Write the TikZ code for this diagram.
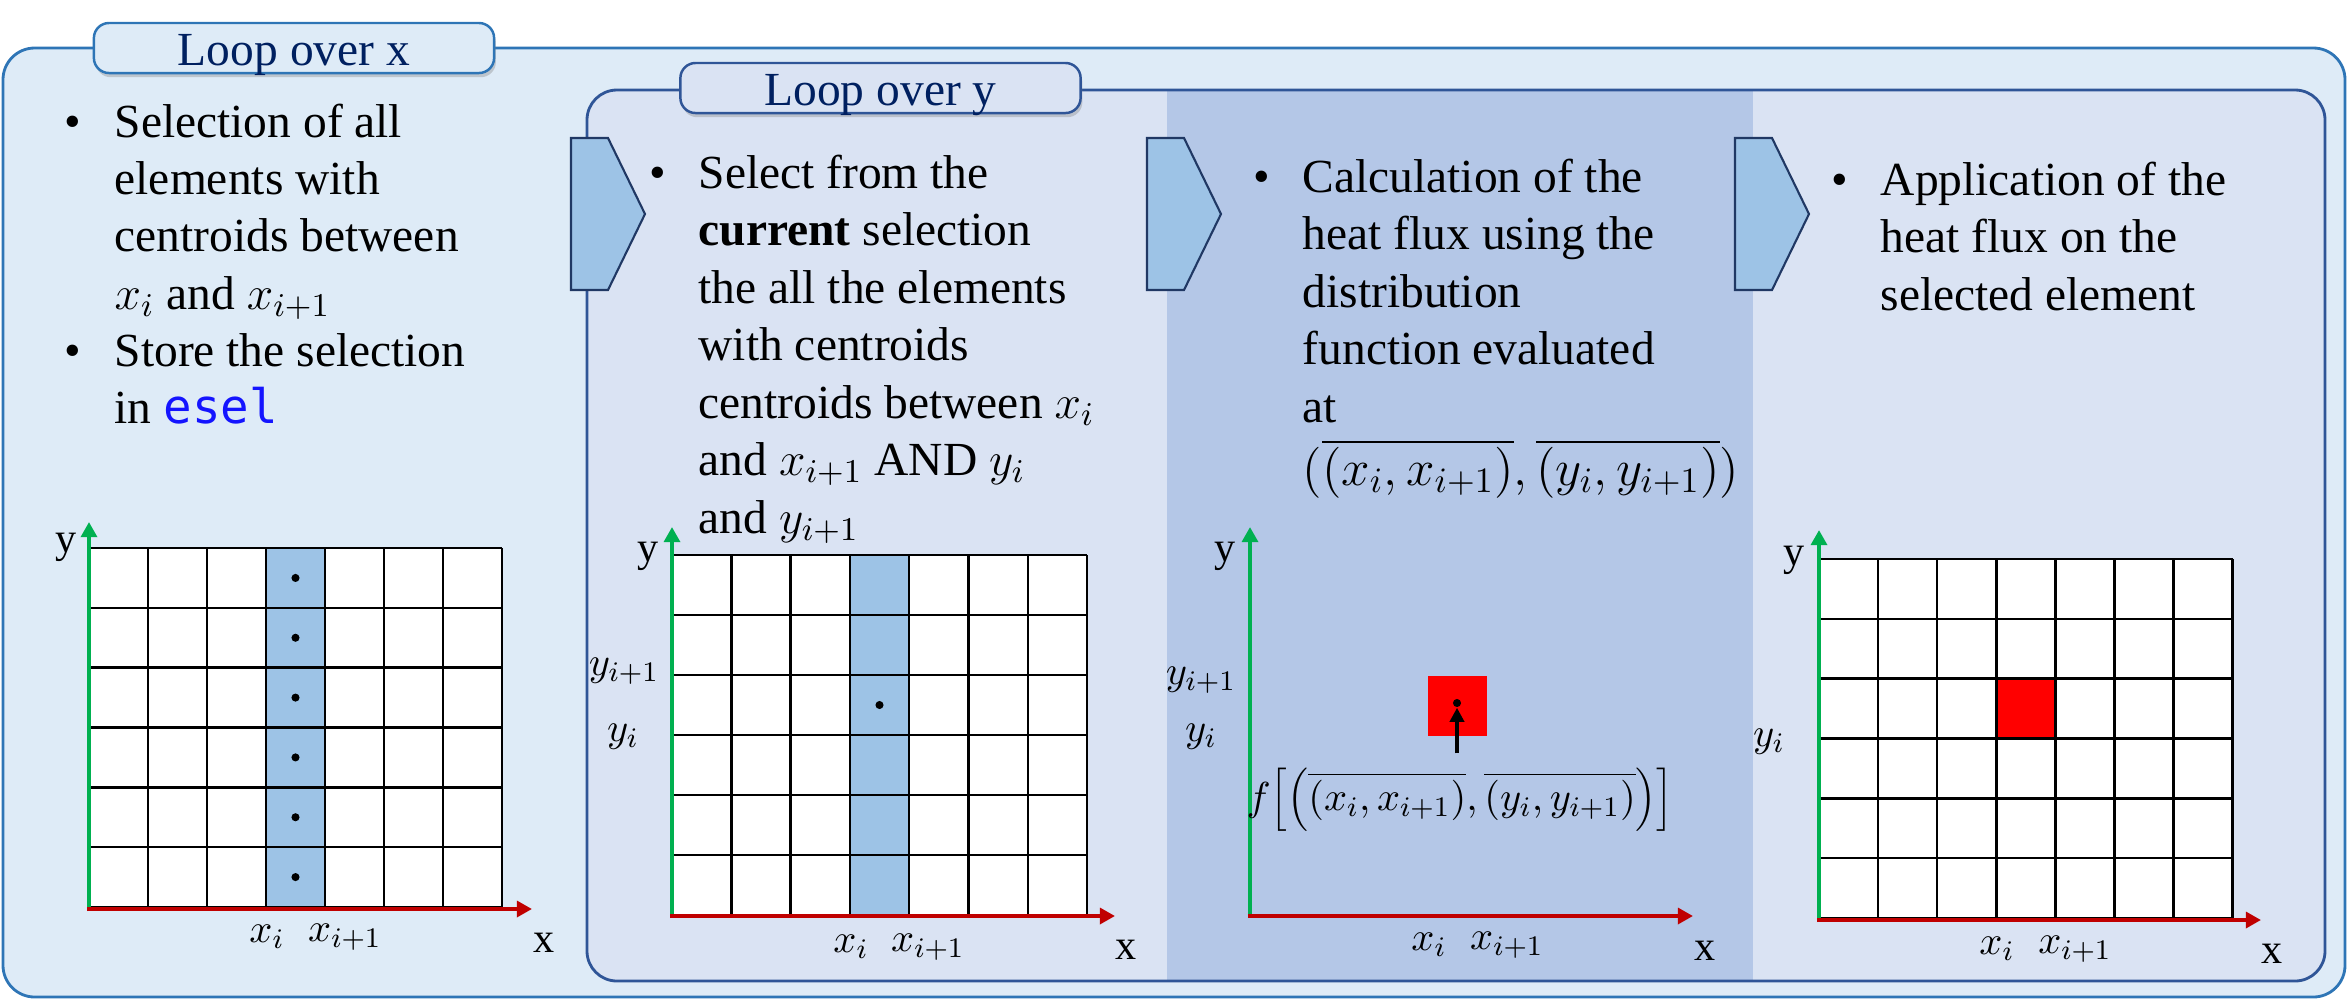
\documentclass[tikz,border=0pt]{standalone}
\usepackage{fix-cm}
\usepackage{fontspec}
\setmainfont{Liberation Serif}
\newfontfamily\codefont{DejaVu Sans Mono}
\usetikzlibrary{arrows.meta,shadows}
\definecolor{outerfill}{HTML}{DEEBF7}
\definecolor{innerfill}{HTML}{DAE3F3}
\definecolor{midfill}{HTML}{B4C7E7}
\definecolor{outerline}{HTML}{2E75B6}
\definecolor{innerline}{HTML}{2F5597}
\definecolor{chevfill}{HTML}{9DC3E6}
\definecolor{chevline}{HTML}{203864}
\definecolor{tabtext}{HTML}{002060}
\definecolor{codeblue}{RGB}{20,20,255}
\definecolor{axgreen}{HTML}{00B050}
\definecolor{axred}{HTML}{C00000}
\definecolor{cellred}{HTML}{FF0000}
\newcommand\meshbase[4]{\fill[white] (#1,#2) rectangle ({#1+7*#3},{#2+6*#4});}
\newcommand\meshlines[4]{%
  \foreach \i in {0,...,7}{\draw[gridline] ({#1+\i*#3},#2) -- ({#1+\i*#3},{#2+6*#4});}%
  \foreach \j in {0,...,6}{\draw[gridline] (#1,{#2+\j*#4}) -- ({#1+7*#3},{#2+\j*#4});}}
\begin{document}
\begin{tikzpicture}[x=0.01cm,y=-0.01cm,
  body/.style={font=\fontsize{13.5}{16}\selectfont},
  txt/.style={body,anchor=base west,inner sep=0pt},
  bul/.style={body,anchor=base,inner sep=0pt},
  axlbl/.style={font=\fontsize{12}{14}\selectfont,inner sep=0pt},
  mlbl/.style={font=\fontsize{11.5}{13}\selectfont,inner sep=0pt},
  gridline/.style={line width=0.7pt,black},
  yaxis/.style={draw=axgreen,line width=1.2pt,-{Triangle[length=4.3pt,width=4.5pt]}},
  xaxis/.style={draw=axred,line width=1.3pt,-{Triangle[length=4.3pt,width=4.5pt]}},
  chev/.style={fill=chevfill,draw=chevline,line width=0.6pt},
  tabbox/.style={rounded corners=4.3pt,line width=0.7pt,minimum width=4cm,minimum height=0.5cm,inner sep=0pt,
     drop shadow={shadow xshift=0.5pt,shadow yshift=-1.2pt,opacity=0.35}},
  tabtxt/.style={body,anchor=base,inner sep=0pt,text=tabtext},
  dotnode/.style={circle,fill=black,inner sep=0pt,minimum size=2.3pt},
]
\useasboundingbox (0,0) rectangle (2348,999);
% outer loop box
\draw[draw=outerline,fill=outerfill,line width=0.8pt,rounded corners=9pt] (3,48) rectangle (2345,997);
\node[tabbox,draw=outerline,fill=outerfill] (tabx) at (294,48) {};
\node[tabtxt] (tabxt) at (294,65) {Loop over x};
% inner loop box
\fill[innerfill,rounded corners=8.5pt] (587,90) rectangle (2325,981);
\fill[midfill] (1167,90) rectangle (1753,981);
\draw[innerline,line width=0.8pt,rounded corners=8.5pt] (587,90) rectangle (2325,981);
\node[tabbox,draw=innerline,fill=innerfill] (taby) at (880.5,88) {};
\node[tabtxt] (tabyt) at (880.5,105) {Loop over y};
% chevrons
\foreach \cx in {571,1147,1735}{\filldraw[chev] (\cx,138) -- ++(37,0) -- ++(37,76) -- ++(-37,76) -- ++(-37,0) -- cycle;}
% column 1 text
\node[bul] (b1a) at (73,137) {\textbullet};
\node[txt] (t1a) at (114,137) {Selection of all};
\node[txt] (t1b) at (114,194) {elements with};
\node[txt] (t1c) at (114,251) {centroids between};
\node[txt] (t1d) at (114,309) {$x_i$ and $x_{i+1}$};
\node[bul] (b1b) at (73,366) {\textbullet};
\node[txt] (t1e) at (114,366) {Store the selection};
\node[txt] (t1f) at (114,423) {in {\codefont\color{codeblue}esel}};
% column 2 text
\node[bul] (b2a) at (658,188) {\textbullet};
\node[txt] (t2a) at (698,188) {Select from the};
\node[txt] (t2b) at (698,245.5) {\textbf{current} selection};
\node[txt] (t2c) at (698,303) {the all the elements};
\node[txt] (t2d) at (698,360.5) {with centroids};
\node[txt] (t2e) at (698,418) {centroids between $x_i$};
\node[txt] (t2f) at (698,475.5) {and $x_{i+1}$ AND $y_i$};
\node[txt] (t2g) at (698,533) {and $y_{i+1}$};
% column 3 text
\node[bul] (b3a) at (1262,192) {\textbullet};
\node[txt] (t3a) at (1302,192) {Calculation of the};
\node[txt] (t3b) at (1302,249.5) {heat flux using the};
\node[txt] (t3c) at (1302,307) {distribution};
\node[txt] (t3d) at (1302,364.5) {function evaluated};
\node[txt] (t3e) at (1302,422) {at};
\node[txt,font=\fontsize{14.5}{17}\selectfont] (t3f) at (1302,485) {$\Big(\overline{(x_i,x_{i+1})},\overline{(y_i,y_{i+1})}\Big)$};
% column 4 text
\node[bul] (b4a) at (1840,195) {\textbullet};
\node[txt] (t4a) at (1880,195) {Application of the};
\node[txt] (t4b) at (1880,252.5) {heat flux on the};
\node[txt] (t4c) at (1880,310) {selected element};
% grid 1
\meshbase{89}{548}{59}{59.83}
\fill[chevfill] (266,548) rectangle (325,907);
\meshlines{89}{548}{59}{59.83}
\foreach \j in {0,...,5}{\fill (295.5,{548+(\j+0.5)*59.83}) circle[radius=1.15pt];}
\draw[yaxis] (89,911) -- (89,522);
\draw[xaxis] (87,909) -- (532,909);
\node[axlbl] (g1y) at (66,547) {y};
\node[axlbl] (g1x) at (544,943) {x};
\node[mlbl] (g1xi) at (267,937) {$x_i$};
\node[mlbl] (g1xj) at (345,937) {$x_{i+1}$};
% grid 2
\meshbase{672}{555}{59.3}{60}
\fill[chevfill] (849.9,555) rectangle (909.2,915);
\meshlines{672}{555}{59.3}{60}
\fill (879.5,705) circle[radius=1.15pt];
\draw[yaxis] (672,918) -- (672,527);
\draw[xaxis] (670,916) -- (1115,916);
\node[axlbl] (g2y) at (648,556) {y};
\node[axlbl] (g2x) at (1126,950) {x};
\node[mlbl] (g2yj) at (624,671) {$y_{i+1}$};
\node[mlbl] (g2yi) at (623,737) {$y_i$};
\node[mlbl] (g2xi) at (851,947) {$x_i$};
\node[mlbl] (g2xj) at (928,947) {$x_{i+1}$};
% plot 3
\fill[cellred] (1428,676) rectangle (1487,736);
\draw[yaxis] (1250,918) -- (1250,527);
\draw[xaxis] (1248,916) -- (1693,916);
\node[axlbl] (g3y) at (1225,556) {y};
\node[axlbl] (g3x) at (1705,951) {x};
\node[mlbl] (g3yj) at (1201,680) {$y_{i+1}$};
\node[mlbl] (g3yi) at (1201,737) {$y_i$};
\node[mlbl] (g3xi) at (1429,945) {$x_i$};
\node[mlbl] (g3xj) at (1507,945) {$x_{i+1}$};
\node[dotnode] (fdot) at (1457,703) {};
\node[mlbl,anchor=base] (flab) at (1460,810) {$f\Big[\Big(\overline{(x_i,x_{i+1})},\overline{(y_i,y_{i+1})}\Big)\Big]$};
\coordinate (fstart) at ([yshift=4pt]flab.north);
\draw[line width=1pt,-{Triangle[length=4pt,width=4pt]}] (fstart -| fdot) -- (fdot);
% grid 4
\meshbase{1819}{559}{59.1}{59.83}
\fill[cellred] (1996.3,678.7) rectangle (2055.4,738.5);
\meshlines{1819}{559}{59.1}{59.83}
\draw[yaxis] (1819,922) -- (1819,530);
\draw[xaxis] (1817,920) -- (2261,920);
\node[axlbl] (g4y) at (1794,560) {y};
\node[axlbl] (g4x) at (2272,954) {x};
\node[mlbl] (g4yi) at (1769,742) {$y_i$};
\node[mlbl] (g4xi) at (1997,949) {$x_i$};
\node[mlbl] (g4xj) at (2075,949) {$x_{i+1}$};
\end{tikzpicture}
\end{document}
